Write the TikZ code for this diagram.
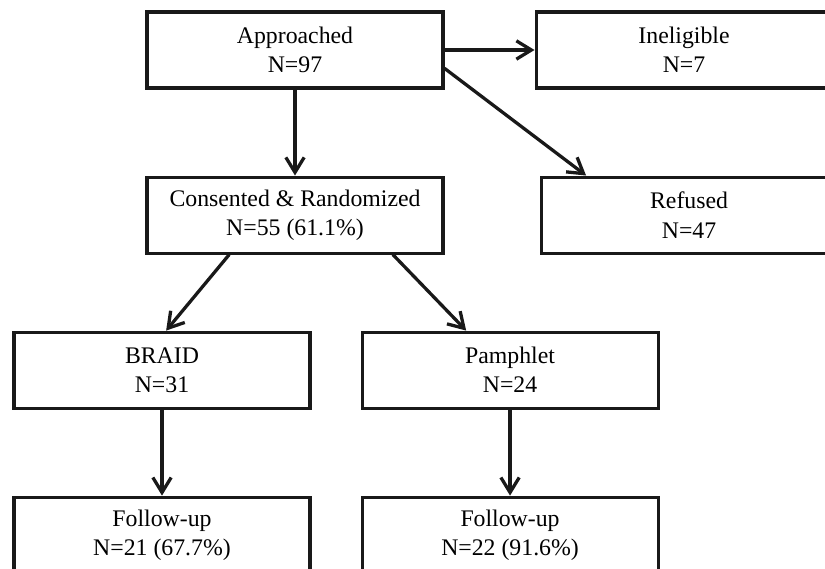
\documentclass[tikz,border=0pt]{standalone}
\usepackage{fontspec}
\setmainfont{Liberation Serif}
\usetikzlibrary{arrows.meta, positioning}
\tikzstyle{stagebox} = [rectangle, minimum width=8.88cm, minimum height=2.28cm, text centered, align=center, draw=black!90, line width=2.6pt, font=\fontsize{20.3}{25}\selectfont]
\tikzstyle{arrow} = [line width=2.8pt, black!90, -{Straight Barb[length=0.45cm, width=0.55cm]}]

\begin{document}
\begin{tikzpicture}
\useasboundingbox (0,0) rectangle (24.75,-17.07);
\node (appr) [stagebox] at (8.85,-1.5) {Approached\\N=97};
\node (inel) [stagebox, right=2.7cm of appr] {Ineligible\\N=7};

\node (cons) [stagebox, below=2.58cm of appr] {Consented \& Randomized\\N=55 (61.1\%)};
\node (refused) [stagebox, right=2.85cm of cons] {Refused\\N=47};

\node (braid) [stagebox, below=2.28cm of cons, xshift=-3.99cm] {BRAID\\N=31};
\node (pamph) [stagebox, right=1.47cm of braid] {Pamphlet\\N=24};

\node (followb) [stagebox, below=2.58cm of braid] {Follow-up\\N=21 (67.7\%)};
\node (followp) [stagebox, below=2.58cm of pamph] {Follow-up\\N=22 (91.6\%)};

\draw [arrow] (appr) -- (cons);
\draw [arrow] (appr.east) -- (inel.west);
\draw [arrow] (appr.-7.7) -- (refused.159);
\draw [arrow] (cons.211.5) -- (braid.84);
\draw [arrow] (cons.-22.9) -- (pamph.138.5);
\draw [arrow] (braid) -- (followb);
\draw [arrow] (pamph) -- (followp);
\end{tikzpicture}
\end{document}
